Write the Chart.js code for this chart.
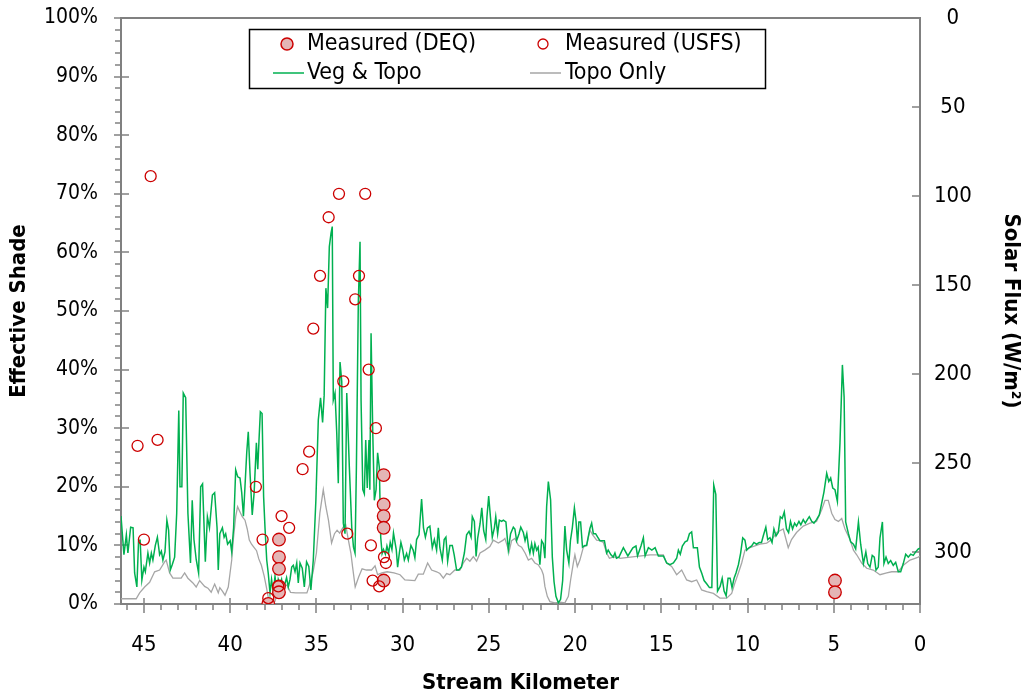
<!DOCTYPE html>
<html><head><meta charset="utf-8">
<script src="https://cdn.jsdelivr.net/npm/chart.js@4.4.0/dist/chart.umd.min.js"></script>
<style>html,body{margin:0;padding:0;background:#fff;}canvas{display:block;}</style>
</head><body>
<canvas id="c" width="1024" height="697"></canvas>
<script>
// ---- data (km, % effective shade) ----
const vegKm = [46.33,46.16,46.02,45.93,45.77,45.63,45.54,45.41,45.31,45.22,45.12,45.0,44.92,44.77,44.67,44.57,44.48,44.34,44.22,44.09,43.99,43.9,43.78,43.67,43.57,43.47,43.36,43.22,43.1,42.98,42.91,42.8,42.72,42.58,42.45,42.3,42.2,42.1,41.97,41.83,41.71,41.6,41.44,41.32,41.2,41.03,40.9,40.76,40.69,40.6,40.45,40.35,40.26,40.15,40.0,39.91,39.8,39.68,39.56,39.43,39.33,39.23,39.14,39.04,38.95,38.85,38.72,38.61,38.48,38.4,38.33,38.25,38.15,38.06,37.98,37.88,37.79,37.69,37.6,37.5,37.4,37.29,37.21,37.11,37.02,36.92,36.83,36.73,36.63,36.53,36.43,36.34,36.24,36.14,36.05,35.95,35.82,35.7,35.57,35.44,35.32,35.18,35.03,34.89,34.76,34.64,34.55,34.45,34.35,34.25,34.15,34.08,34.02,33.92,33.82,33.73,33.63,33.53,33.44,33.34,33.24,33.09,32.95,32.85,32.76,32.68,32.57,32.47,32.41,32.31,32.22,32.14,32.05,31.95,31.9,31.83,31.73,31.64,31.54,31.45,31.35,31.27,31.19,31.11,31.0,30.91,30.81,30.72,30.62,30.53,30.37,30.29,30.19,30.1,30.0,29.9,29.77,29.67,29.52,29.39,29.29,29.19,29.05,28.9,28.79,28.68,28.56,28.42,28.28,28.16,28.03,27.93,27.84,27.7,27.59,27.49,27.39,27.26,27.12,27.01,26.87,26.74,26.59,26.42,26.29,26.15,26.03,25.96,25.84,25.74,25.65,25.51,25.41,25.3,25.18,25.11,25.01,24.91,24.8,24.68,24.6,24.49,24.39,24.26,24.16,24.01,23.87,23.74,23.58,23.49,23.39,23.25,23.15,23.0,22.9,22.8,22.7,22.62,22.52,22.42,22.33,22.23,22.14,22.04,21.94,21.84,21.75,21.65,21.55,21.42,21.32,21.22,21.11,20.97,20.84,20.72,20.59,20.49,20.36,20.27,20.16,20.04,19.95,19.85,19.78,19.68,19.57,19.43,19.33,19.24,19.14,19.04,18.94,18.81,18.69,18.56,18.42,18.3,18.17,18.08,17.92,17.79,17.69,17.6,17.46,17.2,16.94,16.65,16.47,16.38,16.18,16.04,15.94,15.75,15.55,15.36,15.17,14.88,14.69,14.5,14.3,14.11,14.01,13.9,13.78,13.62,13.49,13.37,13.24,13.14,12.91,12.79,12.65,12.52,12.36,12.21,12.07,11.96,11.84,11.74,11.59,11.47,11.36,11.24,11.13,11.01,10.9,10.78,10.67,10.53,10.4,10.28,10.15,10.05,9.92,9.76,9.63,9.48,9.32,9.19,9.09,8.94,8.83,8.7,8.58,8.47,8.35,8.22,8.1,7.99,7.87,7.74,7.62,7.51,7.39,7.27,7.16,7.02,6.91,6.77,6.65,6.53,6.42,6.28,6.15,6.0,5.84,5.7,5.57,5.41,5.29,5.18,5.06,4.93,4.79,4.64,4.5,4.4,4.31,4.15,4.02,3.86,3.73,3.57,3.44,3.28,3.14,3.03,2.9,2.77,2.65,2.55,2.42,2.32,2.18,2.09,1.97,1.84,1.7,1.55,1.41,1.26,1.12,0.97,0.83,0.68,0.54,0.39,0.25,0.1,0];
const vegShade = [15,8.4,11.8,8.7,13.1,13,5.3,2.9,10.9,10.9,4.1,6.3,5.5,8.7,7,8.7,7.5,10,11.4,8.4,9,7.5,8.9,14.3,12.6,5.8,6.7,8,15.5,33,20,20,36,35.2,15.5,7,17.7,11,7.6,5.3,20,20.5,7.2,14.9,13,18.6,19,13,5.8,12,13,11.4,12,10.2,10.8,8.9,13,22.9,21.7,21.5,19,15,20.1,25.8,29.4,22.4,15.2,19,27.5,23,27.8,32.8,32.5,18.3,13,7.5,5.2,1.9,4.2,1.9,4.7,1.9,4.2,3.4,4.2,1.9,3.4,4.5,2.9,4.2,6.3,6.6,5.5,7,3.6,7,6.1,2.9,7.2,6.4,2.4,7.5,17.7,31.4,35.2,31,35.6,53.9,50.5,61,63.3,64.4,34.8,36,29.2,20.6,41.3,38,13.8,12,36,23.4,13.1,9.7,8.7,23.4,51.3,61.8,34.8,19.5,18.8,28,19.8,28,19.5,46.2,29,17.7,19.5,25.8,23.3,11.4,8.6,9.3,8.5,9.9,8.7,10.5,9.3,12.1,9.3,6.3,8.7,10.5,9.3,7.5,8.6,7.5,10,9.2,7.9,11,11.8,17.9,13,11.4,13,13.3,9.6,11,9.2,13,9.6,7.5,11,11.4,7.3,10,10,8.4,5.8,5.8,6.3,8.7,11.8,12.4,11.4,14.9,14.1,8.1,11.2,13.7,16.4,12.5,11,14.9,18.4,14.9,11.4,13,14.9,12,14.3,14.1,14.3,14,9.2,12,13.1,12.8,10.8,12,13.1,12.2,10.8,12,9.7,8.7,10.3,8.7,10.3,9.2,9.7,6.7,10.8,10.3,7.8,16.6,20.9,17.8,8,3.8,1.3,0.2,0.8,4,13.3,9.2,7,10.8,13,16.4,14.3,10.3,14,14,9.7,10,10,11.4,12.9,13.8,12,12,11.4,10.8,10.8,10.8,8.7,9.2,8.4,8,8.7,7.8,8,9.6,8.2,9.6,9.9,8.2,9.9,11.3,8.2,9.6,9.2,9.6,8.2,8.2,7,6.7,7,7.8,9.2,8.5,9.9,10.6,10.8,12,12.3,9.6,9.6,6.3,5.2,4,3.4,2.8,2.8,20.3,18.7,2.2,3,4.4,2.2,1.4,4.4,4.4,2.8,4.4,5.3,6.7,8.7,11.3,10.9,9.2,9.6,9.9,10.5,10.2,10.5,10.5,11.6,13.1,11,11.3,10.5,12.8,11.6,12.2,14.9,14.6,15.7,12.8,12.2,14.1,12.8,13.8,13.3,14.1,13.5,14.4,13.8,14.4,14.9,14.1,13.8,14.4,15.2,17.2,19.1,22.3,20.9,21.5,19.8,19.5,17.5,27.5,40.8,35.3,14,12,10.6,10.2,9.4,14,10.2,6.9,8.9,6.9,6.3,8.3,8,5.8,6.3,11.3,14,6.9,8,6.9,7.4,6.6,7.1,5.5,5.5,6.9,8.5,8,8.5,8.3,8.9,9.4,9.5];

const topoKm = [46.33,45.45,45.25,44.96,44.67,44.38,44.09,43.8,43.71,43.51,43.32,42.84,42.64,42.45,42.16,41.97,41.77,41.48,41.29,41.1,40.9,40.69,40.6,40.45,40.3,40.11,40.01,39.91,39.82,39.68,39.57,39.43,39.3,39.14,39.01,38.89,38.76,38.63,38.47,38.34,38.19,38.03,37.9,37.79,37.6,37.4,37.25,37.11,36.9,36.7,36.5,36.2,35.8,35.55,35.45,35.2,35.0,34.8,34.6,34.45,34.3,34.12,33.95,33.8,33.65,33.45,33.3,33.15,33.0,32.9,32.75,32.55,32.35,32.1,31.8,31.6,31.45,31.2,30.9,30.5,30.15,29.87,29.29,29.09,28.8,28.55,28.32,28.03,27.84,27.64,27.45,27.26,26.97,26.68,26.48,26.29,26.1,25.9,25.71,25.51,25.23,24.94,24.74,24.45,24.17,24.07,23.83,23.68,23.49,23.29,23.1,22.9,22.71,22.52,22.33,22.14,21.94,21.84,21.75,21.61,21.46,21.17,20.88,20.59,20.39,20.26,20.1,20.01,19.87,19.72,19.52,19.33,19.14,18.98,18.75,18.56,18.36,18.17,18.01,17.79,17.5,17.4,16.55,15.65,14.88,14.69,14.4,14.11,13.82,13.53,13.24,12.95,12.66,12.37,11.98,11.6,11.21,10.92,10.73,10.53,10.34,10.15,9.86,9.57,9.28,8.89,8.6,8.31,7.93,7.64,7.45,7.16,6.77,6.38,6.0,5.7,5.51,5.32,5.12,4.93,4.73,4.54,4.35,4.06,3.86,3.67,3.38,3.09,2.71,2.32,1.93,1.64,1.26,0.97,0.58,0.29,0.1,0];
const topoShade = [0.9,0.9,1.9,2.9,3.7,5.5,5.8,7.2,7.5,5.3,4.4,4.4,5.3,4.4,3.6,2.9,4,3,2.7,2,3.4,1.9,2.8,2.2,1.5,2.9,5.2,7.5,10.9,14.9,16.6,15.7,14.9,14.3,12.8,10.9,10.2,9.7,9.1,7.7,6.6,4.8,2.9,1.1,0.4,0.5,2.5,3,3.2,3.2,2,1.9,1.9,1.9,2.8,5.3,8.7,15.5,19.5,16.6,14.3,10.4,12,12.6,12.1,13.1,13.5,11,8.7,6.3,2.9,4.6,6,5.8,5.8,6.5,5,5.3,5.5,5.3,5,4.1,4,5.1,5.1,7,5.8,5.5,5.2,4.4,5.2,5,5.8,5.8,7,7.8,7.3,8.1,7.3,8.7,9.2,9.8,10.9,10.4,10.9,11.2,8.9,10.8,11.2,10,9.7,8.7,7.5,7.8,7,6.7,5.8,5,3,1.3,0.4,0.2,0.3,0.2,1.3,4.1,7,8.4,6.4,7.5,9.7,10,12.6,11.8,10.9,10.8,10.5,8.7,7.8,8,8,7.8,8.1,8.4,8.4,7,6.4,5,5.8,4.1,3.8,4.1,2.4,2.1,1.8,1,1,1.8,3.6,5.3,7,9.2,9.6,9.9,10.2,10.4,11,12.2,12.8,9.6,11,12.2,13.3,13.8,14.1,16.1,17.7,17.7,15.5,14.4,14.1,14.6,12.8,11,9.2,8.4,7,6.1,5.8,5,5.3,5.5,5.5,6.6,7.5,7.8,8,8.2];

const deqKm = [37.79,37.17,37.17,37.17,37.17,37.17,31.1,31.1,31.1,31.1,31.1,4.93,4.93];
const deqShade = [0,11,8,6,3,2,22,17,15,13,4,4,2];

const usfsKm = [45.37,44.61,44.21,45.0,38.51,38.12,37.79,37.21,37.02,36.58,35.8,35.42,35.18,34.79,34.29,33.69,33.44,33.21,32.75,32.53,32.17,31.97,31.84,31.74,31.55,31.36,31.08,30.97];
const usfsShade = [27,73,28,11,20,11,1,3,15,13,23,26,47,56,66,70,38,12,52,56,70,40,10,4,30,3,8,7];

const kmTicks = [45,40,35,30,25,20,15,10,5,0];
const shadeTicks = [0,10,20,30,40,50,60,70,80,90,100];
const fluxTicks = [0,50,100,150,200,250,300];
const kmMax = 46.33;
const fluxMax = 329.2;

// ---- styling ----
const FONT = '"DejaVu Sans Condensed", "DejaVu Sans", sans-serif';
Chart.defaults.font.family = FONT;
Chart.defaults.color = '#000';
const axisColor = '#808080';
const red = '#cc0000';

const pts = (xs, ys) => xs.map((x, i) => ({x: x, y: ys[i]}));

const tickMarks = {
  id: 'tickMarks',
  beforeDatasetsDraw(chart) {
    const {ctx, chartArea: a, scales} = chart;
    ctx.save();
    ctx.strokeStyle = axisColor;
    ctx.lineWidth = 2;
    ctx.beginPath(); ctx.moveTo(a.left, a.top); ctx.lineTo(a.right, a.top); ctx.stroke();
    ctx.lineWidth = 1.5;
    for (let v = 0; v <= 46; v++) {
      const px = Math.round(scales.x.getPixelForValue(v));
      ctx.beginPath();
      if (v % 5 === 0) { ctx.moveTo(px, a.bottom - 6); ctx.lineTo(px, a.bottom + 9); }
      else { ctx.moveTo(px, a.bottom); ctx.lineTo(px, a.bottom + 6); }
      ctx.stroke();
    }
    for (let v = 0; v <= 100; v += 2) {
      const py = Math.round(scales.y.getPixelForValue(v));
      ctx.beginPath();
      if (v % 10 === 0) { ctx.moveTo(a.left - 7, py); ctx.lineTo(a.left + 8, py); }
      else { ctx.moveTo(a.left - 6, py); ctx.lineTo(a.left, py); }
      ctx.stroke();
    }
    for (const v of fluxTicks) {
      const py = Math.round(scales.y2.getPixelForValue(v));
      ctx.beginPath(); ctx.moveTo(a.right - 8, py); ctx.lineTo(a.right, py); ctx.stroke();
    }
    ctx.restore();
  }
};

const boxLegend = {
  id: 'boxLegend',
  afterDatasetsDraw(chart) {
    const {ctx, chartArea: a} = chart;
    const ds = chart.data.datasets;
    const bx = a.left + 128, by = a.top + 11, bw = 516, bh = 59;
    ctx.save();
    ctx.fillStyle = '#fff';
    ctx.fillRect(bx, by, bw, bh);
    ctx.strokeStyle = '#000'; ctx.lineWidth = 1.5;
    ctx.strokeRect(bx + 0.5, by + 0.5, bw, bh);
    ctx.font = '23px ' + FONT;
    ctx.fillStyle = '#000';
    ctx.textBaseline = 'middle';
    const r1 = by + 15, r2 = by + 44;
    const c1 = bx + 58, c2 = bx + 316;
    const deq = ds[1], usfs = ds[0], veg = ds[2], topo = ds[3];
    ctx.beginPath(); ctx.arc(bx + 38, r1, 6, 0, Math.PI * 2);
    ctx.fillStyle = deq.backgroundColor; ctx.fill();
    ctx.strokeStyle = deq.borderColor; ctx.lineWidth = 1.5; ctx.stroke();
    ctx.fillStyle = '#000'; ctx.fillText(deq.label, c1, r1);
    ctx.beginPath(); ctx.arc(bx + 294, r1, 5, 0, Math.PI * 2);
    ctx.fillStyle = '#fff'; ctx.fill();
    ctx.strokeStyle = usfs.borderColor; ctx.lineWidth = 1.3; ctx.stroke();
    ctx.fillStyle = '#000'; ctx.fillText(usfs.label, c2, r1);
    ctx.lineWidth = 1.5;
    ctx.strokeStyle = veg.borderColor;
    ctx.beginPath(); ctx.moveTo(bx + 24, r2); ctx.lineTo(bx + 55, r2); ctx.stroke();
    ctx.fillText(veg.label, c1, r2);
    ctx.strokeStyle = topo.borderColor;
    ctx.beginPath(); ctx.moveTo(bx + 281, r2); ctx.lineTo(bx + 312, r2); ctx.stroke();
    ctx.fillText(topo.label, c2, r2);
    ctx.restore();
  }
};

const noVPad = s => { s.paddingTop = 10; s.paddingBottom = 10; };

new Chart(document.getElementById('c'), {
  type: 'scatter',
  data: {
    datasets: [
      {label: 'Measured (USFS)', data: pts(usfsKm, usfsShade), pointRadius: 5.5, pointBorderWidth: 1.3,
       borderColor: red, backgroundColor: 'rgba(255,255,255,0)', pointBackgroundColor: 'rgba(255,255,255,0)', showLine: false},
      {label: 'Measured (DEQ)', data: pts(deqKm, deqShade), pointRadius: 6.3, pointBorderWidth: 1.3,
       borderColor: red, backgroundColor: '#e4b5b5', showLine: false},
      {label: 'Veg & Topo', data: pts(vegKm, vegShade), showLine: true, pointRadius: 0,
       borderColor: '#00b050', borderWidth: 1.5, backgroundColor: '#00b050', tension: 0},
      {label: 'Topo Only', data: pts(topoKm, topoShade), showLine: true, pointRadius: 0,
       borderColor: '#a6a6a6', borderWidth: 1.3, backgroundColor: '#a6a6a6', tension: 0}
    ]
  },
  options: {
    responsive: false, animation: false, devicePixelRatio: 1,
    layout: {padding: {top: 18, left: 0, right: 0, bottom: 0}},
    plugins: {legend: {display: false}, tooltip: {enabled: false}},
    scales: {
      x: {
        type: 'linear', reverse: true, min: 0, max: kmMax,
        grid: {display: false, drawTicks: false},
        border: {display: true, color: axisColor, width: 2},
        afterBuildTicks: s => { s.ticks = kmTicks.map(v => ({value: v})); },
        ticks: {padding: 28, font: {size: 22}, maxRotation: 0, autoSkip: false},
        title: {display: true, text: 'Stream Kilometer', font: {size: 22, weight: 'bold'}, padding: {top: 0, bottom: 1}},
        afterFit: s => { s.height = 93; }
      },
      y: {
        type: 'linear', position: 'left', min: 0, max: 100,
        grid: {display: false, drawTicks: false},
        border: {display: true, color: axisColor, width: 2},
        afterBuildTicks: s => { s.ticks = shadeTicks.map(v => ({value: v})); },
        ticks: {padding: 23, font: {size: 21}, callback: v => v + '%'},
        title: {display: true, text: 'Effective Shade', font: {size: 22, weight: 'bold'}, padding: {top: 6, bottom: 0}},
        afterFit: s => { s.width = 121; noVPad(s); }
      },
      y2: {
        type: 'linear', position: 'right', min: 0, max: fluxMax, reverse: true,
        grid: {display: false, drawTicks: false},
        border: {display: true, color: axisColor, width: 2},
        afterBuildTicks: s => { s.ticks = fluxTicks.map(v => ({value: v})); },
        ticks: {padding: 14, font: {size: 22}, crossAlign: 'center'},
        title: {display: true, text: 'Solar Flux (W/m²)', font: {size: 22, weight: 'bold'}, padding: {top: 0, bottom: 0}},
        afterFit: s => { s.width = 104; noVPad(s); }
      }
    }
  },
  plugins: [tickMarks, boxLegend]
});
</script>
</body></html>
